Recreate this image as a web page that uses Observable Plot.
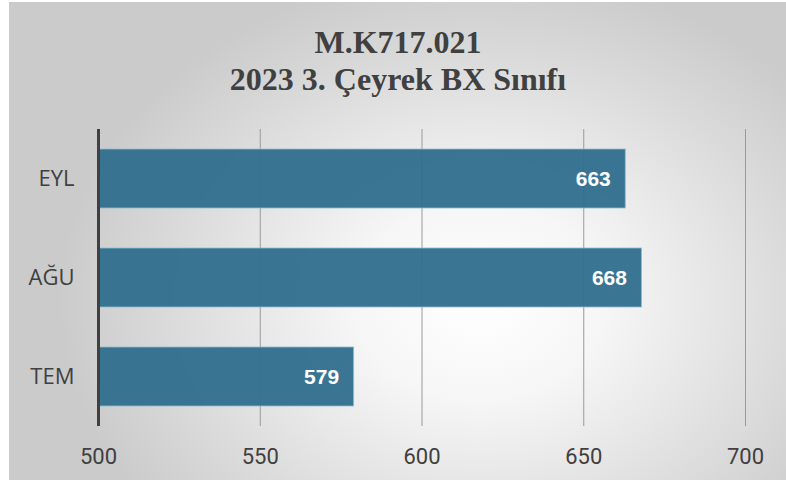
<!DOCTYPE html>
<html>
<head>
<meta charset="utf-8">
<script src="https://cdn.jsdelivr.net/npm/d3@7"></script>
<script src="https://cdn.jsdelivr.net/npm/@observablehq/plot@0.6"></script>
<style>
  html, body { margin: 0; padding: 0; background: #ffffff; }
  #panel {
    position: absolute; left: 9px; top: 2px; width: 777px; height: 478px;
    background: radial-gradient(ellipse 420px 330px at 470px 300px, #ffffff 0%, #f6f6f6 30%, #dadada 75%, #cbcbcb 100%);
  }
  #wrap { position: absolute; left: 0; top: 0; width: 786px; height: 483px; }
  #title {
    height: 110px; width: 786px; box-sizing: border-box; padding-top: 24px;
    text-align: center; font-family: "Liberation Serif", "DejaVu Serif", serif;
    font-weight: bold; font-size: 32px; line-height: 37px; color: #404040;
    padding-left: 10px;
  }
  svg { display: block; background: transparent; }
</style>
</head>
<body>
<div id="panel"></div>
<div id="wrap">
  <div id="title">M.K717.021<br>2023 3. Çeyrek BX Sınıfı</div>
  <div id="chart"></div>
</div>
<script>
const months = ["EYL", "AĞU", "TEM"];
const values = [663, 668, 579];
const xTicks = [500, 550, 600, 650, 700];
const gridTicks = [550, 600, 650, 700];

const data = months.map((m, i) => ({month: m, value: values[i]}));

const chart = Plot.plot({
  width: 786,
  height: 373,
  marginTop: 19,
  marginBottom: 57,
  marginLeft: 98,
  marginRight: 41,
  style: {background: "transparent", color: "#404040", overflow: "visible"},
  x: {domain: [500, 700], ticks: xTicks},
  y: {domain: months, paddingInner: 0.4, paddingOuter: 0.2},
  marks: [
    Plot.ruleX(gridTicks, {y1: 0, y2: 0, stroke: "#9a9a9a", strokeWidth: 1, y1: null, y2: null}),
    Plot.barX(data, {x1: 500, x2: "value", y: "month", fill: "#2f6f8d", fillOpacity: 0.95, stroke: "#8fbdd0", strokeWidth: 1, strokeOpacity: 0.8}),
    Plot.ruleX([500], {stroke: "#404040", strokeWidth: 3}),
    Plot.text(data, {x: "value", y: "month", text: d => String(d.value), textAnchor: "end", dx: -15, fill: "white", fontWeight: "bold", fontSize: 21, fontFamily: "Liberation Sans, Arial, sans-serif"}),
    Plot.axisX({ticks: xTicks, tickSize: 0, tickPadding: 22, fontSize: 22, fontFamily: "Liberation Sans Narrow, Roboto, sans-serif", fill: "#404040", label: null}),
    Plot.axisY({tickSize: 0, tickPadding: 24, fontSize: 22, fontFamily: "Open Sans, Roboto, sans-serif", fill: "#404040", label: null})
  ]
});
document.getElementById("chart").appendChild(chart);
</script>
</body>
</html>
